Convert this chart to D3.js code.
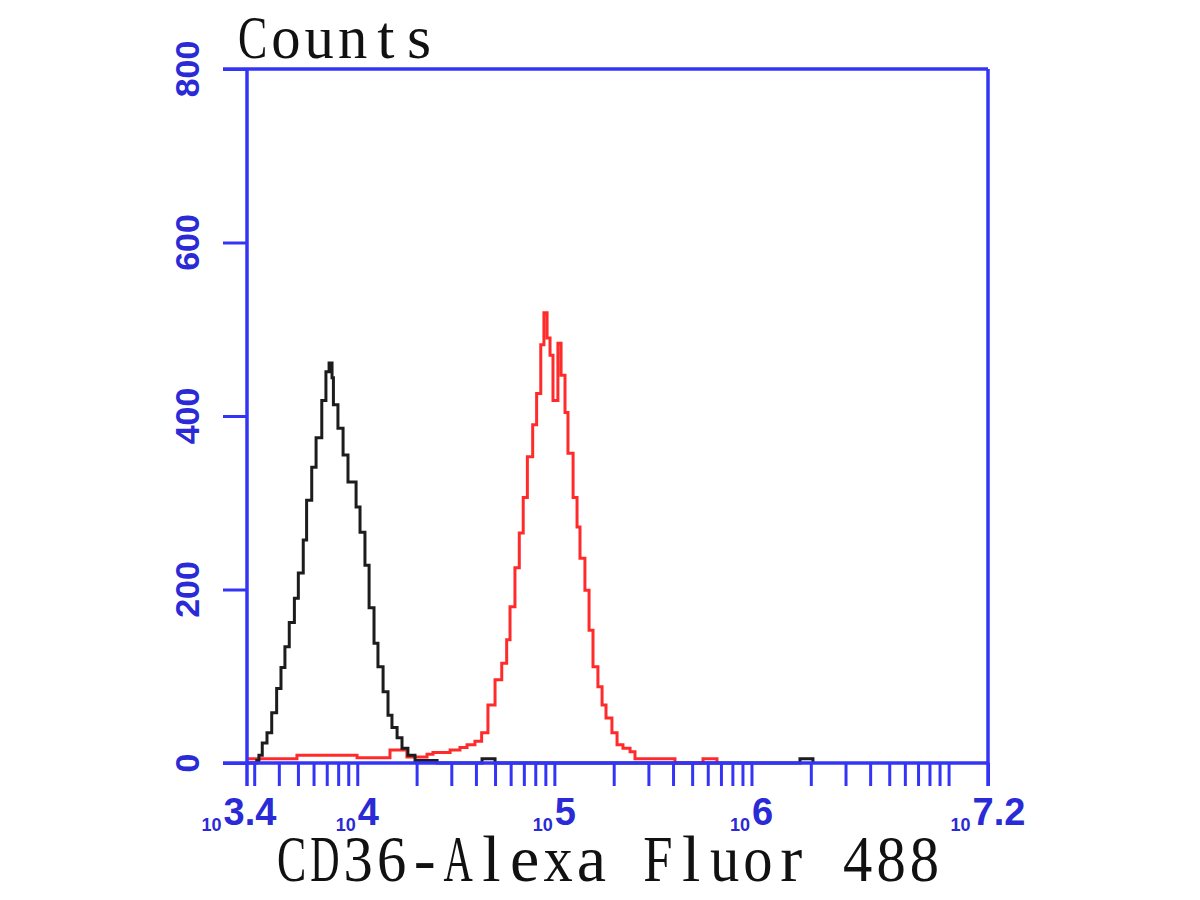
<!DOCTYPE html>
<html>
<head>
<meta charset="utf-8">
<script src="https://d3js.org/d3.v7.min.js"></script>
<style>
  body { margin: 0; background: #fff; }
</style>
</head>
<body>
<svg id="chart" width="1200" height="900"></svg>
<script>
// histogram data: log10 of the channel start and the counts in it
var blackExp = [3.436, 3.490, 3.501, 3.518, 3.542, 3.566, 3.591, 3.613, 3.633, 3.655, 3.681, 3.701, 3.726, 3.743,
  3.769, 3.791, 3.820, 3.841, 3.857, 3.872, 3.879, 3.902, 3.928, 3.953, 3.994, 4.014, 4.039, 4.060, 4.085, 4.105,
  4.131, 4.156, 4.176, 4.202, 4.227, 4.257, 4.293, 4.405, 4.633, 4.699, 6.246, 6.312]
var blackCounts = [0, 3, 9, 23, 35, 58, 86, 110, 134, 162, 190, 219, 257, 303,
  341, 375, 418, 451, 461, 444, 413, 386, 355, 324, 295, 266, 228, 179, 138, 111,
  82, 55, 41, 29, 17, 9, 3, 0, 5, 0, 5, 0]

var redExp = [3.436, 3.694, 3.999, 4.166, 4.252, 4.354, 4.384, 4.471, 4.521, 4.557, 4.597, 4.631, 4.663, 4.699,
  4.733, 4.758, 4.775, 4.800, 4.822, 4.842, 4.863, 4.890, 4.910, 4.931, 4.947, 4.963, 4.978, 4.993, 5.018, 5.034,
  5.054, 5.069, 5.095, 5.115, 5.130, 5.155, 5.176, 5.196, 5.221, 5.242, 5.262, 5.292, 5.318, 5.348, 5.384, 5.409,
  5.612, 5.754, 5.825]
var redCounts = [5, 9, 6, 15, 7, 10, 12, 15, 18, 21, 25, 35, 67, 96,
  115, 142, 180, 225, 265, 306, 353, 390, 426, 482, 519, 490, 470, 418, 484, 447,
  404, 357, 306, 272, 236, 199, 153, 111, 88, 67, 52, 35, 21, 17, 13, 5,
  0, 5, 0]

// tick labels
var xLabelExp = ["3.4", "4", "5", "6", "7.2"]
var yTickVals = [0, 200, 400, 600, 800]

var blue = "#3434f6"
var textBlue = "#2a2ad6"

var svg = d3.select("#chart")

var x = d3.scaleLog()
  .domain([Math.pow(10, 3.4), Math.pow(10, 7.2)])
  .range([239, 988])
var y = d3.scaleLinear()
  .domain([0, 800])
  .range([763, 69])

// the vertical axis sits a few px right of 10^3.4, like in the original
var axisLeftX = 247
var frameLeft = 223
var frameRight = x(Math.pow(10, 7.2))

// histograms, drawn as steps
var line = d3.line()
  .x(function(d) { return x(Math.pow(10, d[0])) })
  .y(function(d) { return y(d[1]) })
  .curve(d3.curveStepAfter)

svg.append("path")
  .datum(d3.zip(redExp, redCounts))
  .attr("d", line)
  .attr("fill", "none")
  .attr("stroke", "#ff2b2b")
  .attr("stroke-width", 3)

svg.append("path")
  .datum(d3.zip(blackExp, blackCounts))
  .attr("d", line)
  .attr("fill", "none")
  .attr("stroke", "#1c1c1c")
  .attr("stroke-width", 3)

// x ticks: every log step plus the end of the range
var xTicks = x.ticks().concat([Math.pow(10, 7.2)])
svg.append("g")
  .attr("transform", "translate(0," + y(0) + ")")
  .call(d3.axisBottom(x).tickValues(xTicks).tickFormat("").tickSize(23).tickSizeOuter(0))
  .call(function(g) { g.select(".domain").remove() })
  .selectAll("line")
  .attr("stroke", blue)
  .attr("stroke-width", 3)

// y ticks
svg.append("g")
  .attr("transform", "translate(" + axisLeftX + ",0)")
  .call(d3.axisLeft(y).tickValues(yTickVals).tickFormat("").tickSize(axisLeftX - frameLeft).tickSizeOuter(0))
  .call(function(g) { g.select(".domain").remove() })
  .selectAll("line")
  .attr("stroke", blue)
  .attr("stroke-width", 3)

// frame
var frame = [
  [frameLeft, y(800), frameRight, y(800)],
  [frameRight, y(800), frameRight, y(0) + 23],
  [frameLeft, y(0), frameRight, y(0)],
  [axisLeftX, y(800), axisLeftX, y(0) + 23]
]
svg.selectAll(".frame")
  .data(frame)
  .enter()
  .append("line")
  .attr("x1", function(d) { return d[0] })
  .attr("y1", function(d) { return d[1] })
  .attr("x2", function(d) { return d[2] })
  .attr("y2", function(d) { return d[3] })
  .attr("stroke", blue)
  .attr("stroke-width", 3.5)

// y labels, turned on their side
svg.selectAll(".ylab")
  .data(yTickVals)
  .enter()
  .append("text")
  .attr("transform", function(d) { return "translate(199," + y(d) + ") rotate(-90)" })
  .attr("text-anchor", "middle")
  .style("font-family", "'Liberation Sans', Arial, sans-serif")
  .style("font-weight", "bold")
  .style("font-size", "34px")
  .attr("fill", textBlue)
  .text(function(d) { return d })

// x labels: small 10 with a big exponent, set as two texts side by side
var xl = svg.selectAll(".xlab")
  .data(xLabelExp)
  .enter()
  .append("g")
  .attr("transform", function(d) { return "translate(" + x(Math.pow(10, +d)) + ",0)" })

xl.append("text")
  .attr("class", "base")
  .attr("y", 831)
  .attr("text-anchor", "end")
  .style("font-family", "'Liberation Sans', Arial, sans-serif")
  .style("font-weight", "bold")
  .style("font-size", "18px")
  .attr("fill", textBlue)
  .text("10")

xl.append("text")
  .attr("class", "exp")
  .attr("y", 825)
  .attr("text-anchor", "start")
  .style("font-family", "'Liberation Sans', Arial, sans-serif")
  .style("font-weight", "bold")
  .style("font-size", "38px")
  .attr("fill", textBlue)
  .text(function(d) { return d })

// centre the pair on the tick
xl.each(function() {
  var g = d3.select(this)
  var wb = g.select(".base").node().getComputedTextLength()
  var we = g.select(".exp").node().getComputedTextLength()
  var shift = (wb - we) / 2
  g.select(".base").attr("x", shift - 1)
  g.select(".exp").attr("x", shift + 1)
})

// monospaced serif titles: one text per character, centred in its cell
// and narrowed only when the glyph is wider than the cell allows
function monoText(str, x0, baseline, cell, size) {
  var maxW = cell - 4
  var g = svg.append("g")
  g.selectAll("text")
    .data(str.split(""))
    .enter()
    .append("text")
    .attr("text-anchor", "middle")
    .style("font-family", "'Liberation Serif', 'DejaVu Serif', serif")
    .style("font-size", size + "px")
    .attr("fill", "#111")
    .text(function(d) { return d })
    .attr("transform", function(d, i) {
      var w = this.getComputedTextLength()
      var s = w > maxW ? maxW / w : 1
      return "translate(" + (x0 + (i + 0.5) * cell) + "," + baseline + ") scale(" + s + ",1)"
    })
}

monoText("Counts", 236, 58, 33.3, 62)
monoText("CD36-Alexa Fluor 488", 275, 881, 33.3, 66)
</script>
</body>
</html>
